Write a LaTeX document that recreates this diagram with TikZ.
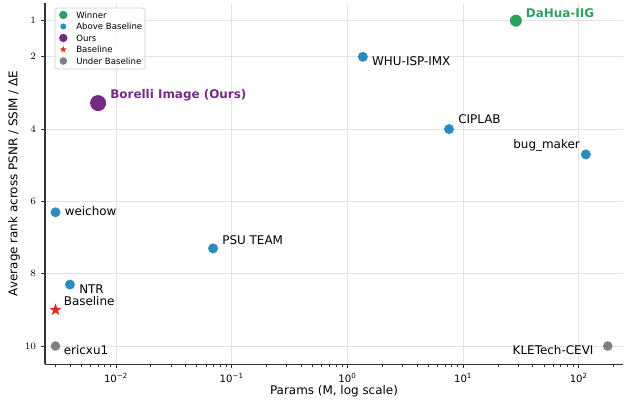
\documentclass[tikz,border=0pt]{standalone}
\usepackage{fontspec}
\setmainfont{DejaVu Sans}
\usepackage{pgfplots}
\usepackage{tikz}
\usetikzlibrary{arrows.meta, positioning, shapes.geometric}
\pgfplotsset{compat=1.17}
\usepackage{xcolor}
\definecolor{winner}{RGB}{44,162,95}
\definecolor{above}{RGB}{43,140,190}
\definecolor{ours}{RGB}{118,42,131}
\definecolor{base}{RGB}{215,48,39}
\definecolor{under}{RGB}{128,128,128}
\tikzset{%
	team/.style={
		circle,
		inner sep=0pt,
		minimum size=0.25cm
	},
	tag/.style={
		inner sep=0pt,
		font=\fontsize{8.5}{10}\selectfont
	},
	bold tag/.style={
		tag,
		font=\fontsize{8.5}{10}\selectfont\bfseries
	},
	legend entry/.style={
		inner sep=0pt,
		font=\fontsize{6.1}{7}\selectfont
	},
}
\newcommand{\decade}[1]{10\textsuperscript{#1}}

\begin{document}
\begin{tikzpicture}
	\useasboundingbox (-1.125,-0.8975) rectangle (14.475,9.1025);
	\begin{axis}[
		scale only axis, width=14.45cm, height=9.0375cm,
		xmode=log, xmin=0.002433, xmax=241,
		ymin=0.5, ymax=10.5, y dir=reverse,
		axis x line*=bottom, axis y line*=left,
		axis line style={-, black!80, line width=0.8pt},
		tick align=outside,
		major tick length=0.1cm, minor tick length=0.06cm,
		tick style={black!80, line width=0.6pt},
		grid=major, grid style={black!11, line width=0.6pt},
		xtick={0.01,0.1,1,10,100},
		xticklabels={\decade{−2},\decade{−1},\decade{0},\decade{1},\decade{2}},
		minor xtick={0.003,0.004,0.005,0.006,0.007,0.008,0.009,
			0.02,0.03,0.04,0.05,0.06,0.07,0.08,0.09,
			0.2,0.3,0.4,0.5,0.6,0.7,0.8,0.9,
			2,3,4,5,6,7,8,9,20,30,40,50,60,70,80,90,200},
		ytick={1,2,4,6,8,10},
		ticklabel style={font=\fontsize{7.2}{8}\selectfont},
		xlabel={Params (M, log scale)},
		ylabel={Average rank across PSNR / SSIM / ΔE},
		label style={font=\fontsize{8.5}{10}\selectfont},
		xlabel style={at={(axis description cs:0.5,-0.0744)}, anchor=center},
		ylabel style={at={(axis description cs:-0.0536,0.5)}, anchor=center},
		clip=false,
	]
		% teams
		\node[team, fill=winner, minimum size=0.3cm] (dahua) at (axis cs:28.6,1) {};
		\node[team, fill=above] (whu) at (axis cs:1.36,2) {};
		\node[team, fill=ours, minimum size=0.4cm] (borelli) at (axis cs:0.007,3.28) {};
		\node[team, fill=above] (ciplab) at (axis cs:7.55,4) {};
		\node[team, fill=above] (bugmaker) at (axis cs:115,4.7) {};
		\node[team, fill=above] (weichow) at (axis cs:0.003,6.3) {};
		\node[team, fill=above] (psu) at (axis cs:0.069,7.3) {};
		\node[team, fill=above] (ntr) at (axis cs:0.004,8.3) {};
		\node[star, star points=5, star point ratio=2.4, fill=base, inner sep=0pt, minimum size=0.32cm] (baseline) at (axis cs:0.003,9) {};
		\node[team, fill=under, minimum size=0.24cm] (ericxu) at (axis cs:0.003,10) {};
		\node[team, fill=under, minimum size=0.24cm] (kletech) at (axis cs:178,10) {};
		
		% labels
		\node[bold tag, anchor=base west, text=winner] (dahuaTag) at ([xshift=6.9pt, yshift=2.6pt]dahua.center) {DaHua-IIG};
		\node[tag, anchor=base west] (whuTag) at ([xshift=6.4pt, yshift=-5.9pt]whu.center) {WHU-ISP-IMX};
		\node[bold tag, anchor=base west, text=ours] (borelliTag) at ([xshift=8.5pt, yshift=3.3pt]borelli.center) {Borelli Image (Ours)};
		\node[tag, anchor=base west] (ciplabTag) at ([xshift=6.4pt, yshift=4pt]ciplab.center) {CIPLAB};
		\node[tag, anchor=base east] (bugmakerTag) at ([xshift=-4.1pt, yshift=4pt]bugmaker.center) {bug\_maker};
		\node[tag, anchor=base west] (weichowTag) at ([xshift=6.4pt, yshift=-2.4pt]weichow.center) {weichow};
		\node[tag, anchor=base west] (psuTag) at ([xshift=6.4pt, yshift=3.1pt]psu.center) {PSU TEAM};
		\node[tag, anchor=base west] (ntrTag) at ([xshift=6.4pt, yshift=-6.2pt]ntr.center) {NTR};
		\node[tag, anchor=base west] (baselineTag) at ([xshift=5.7pt, yshift=2.8pt]baseline.center) {Baseline};
		\node[tag, anchor=base west] (ericxuTag) at ([xshift=5.7pt, yshift=-5.9pt]ericxu.center) {ericxu1};
		\node[tag, anchor=base east] (kletechTag) at ([xshift=-10pt, yshift=-5.9pt]kletech.center) {KLETech-CEVI};
	\end{axis}
	
	% legend
	\draw[black!20, fill=white, fill opacity=0.85, rounded corners=2pt, line width=0.5pt] (0.25,7.3775) rectangle (2.5,8.9025);
	\foreach \entry/\shp/\col/\sz [count=\i] in {Winner/circle/winner/0.21cm, Above Baseline/circle/above/0.15cm, Ours/circle/ours/0.21cm, Baseline/star/base/0.18cm, Under Baseline/circle/under/0.19cm}{
		\node[\shp, star points=5, star point ratio=2.4, fill=\col, inner sep=0pt, minimum size=\sz] (mark\i) at (0.4575, {9.015-0.2875*\i}) {};
		\node[legend entry, anchor=west] (entry\i) at (0.775, {9.015-0.2875*\i}) {\entry};
	}
\end{tikzpicture}
\end{document}
